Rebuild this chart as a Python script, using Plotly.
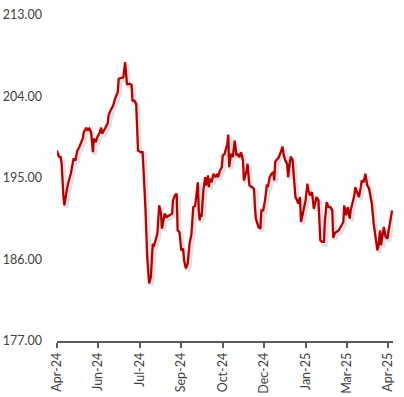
import plotly.graph_objects as go

dates = [
    "2024-04-20", "2024-04-22", "2024-04-24", "2024-04-25", "2024-04-27", "2024-04-28", "2024-04-30",
    "2024-05-02", "2024-05-05", "2024-05-07", "2024-05-08", "2024-05-10", "2024-05-12", "2024-05-14",
    "2024-05-16", "2024-05-18", "2024-05-19", "2024-05-22", "2024-05-23", "2024-05-25", "2024-05-27",
    "2024-05-28", "2024-05-29", "2024-05-30", "2024-06-01", "2024-06-03", "2024-06-05", "2024-06-07",
    "2024-06-08", "2024-06-10", "2024-06-12", "2024-06-14", "2024-06-15", "2024-06-17", "2024-06-20",
    "2024-06-22", "2024-06-25", "2024-06-26", "2024-06-29", "2024-07-01", "2024-07-03", "2024-07-05",
    "2024-07-08", "2024-07-10", "2024-07-11", "2024-07-13", "2024-07-15", "2024-07-17", "2024-07-20",
    "2024-07-22", "2024-07-25", "2024-07-27", "2024-07-29", "2024-07-31", "2024-08-02", "2024-08-03",
    "2024-08-06", "2024-08-07", "2024-08-09", "2024-08-11", "2024-08-12", "2024-08-14", "2024-08-15",
    "2024-08-17", "2024-08-20", "2024-08-23", "2024-08-24", "2024-08-26", "2024-08-28", "2024-08-29",
    "2024-08-31", "2024-09-02", "2024-09-04", "2024-09-05", "2024-09-07", "2024-09-09", "2024-09-11",
    "2024-09-13", "2024-09-15", "2024-09-17", "2024-09-18", "2024-09-20", "2024-09-21", "2024-09-22",
    "2024-09-23", "2024-09-24", "2024-09-26", "2024-09-28", "2024-09-29", "2024-10-01", "2024-10-02",
    "2024-10-03", "2024-10-05", "2024-10-07", "2024-10-09", "2024-10-11", "2024-10-12", "2024-10-14",
    "2024-10-16", "2024-10-17", "2024-10-19", "2024-10-22", "2024-10-23", "2024-10-24", "2024-10-26",
    "2024-10-28", "2024-10-30", "2024-11-01", "2024-11-02", "2024-11-04", "2024-11-06", "2024-11-08",
    "2024-11-09", "2024-11-12", "2024-11-13", "2024-11-15", "2024-11-18", "2024-11-20", "2024-11-21",
    "2024-11-22", "2024-11-25", "2024-11-27", "2024-11-28", "2024-11-30", "2024-12-02", "2024-12-04",
    "2024-12-05", "2024-12-07", "2024-12-09", "2024-12-11", "2024-12-12", "2024-12-13", "2024-12-14",
    "2024-12-17", "2024-12-19", "2024-12-21", "2024-12-22", "2024-12-24", "2024-12-26", "2024-12-27",
    "2024-12-29", "2024-12-30", "2025-01-01", "2025-01-02", "2025-01-04", "2025-01-06", "2025-01-07",
    "2025-01-09", "2025-01-10", "2025-01-12", "2025-01-15", "2025-01-17", "2025-01-18", "2025-01-20",
    "2025-01-22", "2025-01-24", "2025-01-26", "2025-01-27", "2025-01-29", "2025-01-31", "2025-02-02",
    "2025-02-04", "2025-02-05", "2025-02-07", "2025-02-09", "2025-02-11", "2025-02-13", "2025-02-14",
    "2025-02-16", "2025-02-18", "2025-02-20", "2025-02-22", "2025-02-24", "2025-02-25", "2025-02-26",
    "2025-02-28", "2025-03-02", "2025-03-04", "2025-03-05", "2025-03-07", "2025-03-09", "2025-03-10",
    "2025-03-12", "2025-03-14", "2025-03-16", "2025-03-17", "2025-03-19", "2025-03-21", "2025-03-23",
    "2025-03-25", "2025-03-26", "2025-03-28", "2025-03-30", "2025-04-01", "2025-04-03", "2025-04-04",
    "2025-04-06", "2025-04-07", "2025-04-09", "2025-04-10", "2025-04-12", "2025-04-14", "2025-04-15",
    "2025-04-17", "2025-04-19",
]

values = [
    198.03, 197.37, 197.30, 196.60, 192.89, 191.98, 193.30,
    194.40, 195.50, 196.60, 197.15, 196.93, 198.03, 198.37,
    198.95, 199.36, 200.05, 200.57, 200.24, 200.46, 200.05,
    198.81, 197.85, 199.36, 198.95, 199.58, 199.94, 200.57,
    199.91, 200.24, 200.68, 201.04, 201.89, 202.44, 202.99,
    203.76, 204.46, 205.96, 206.07, 206.11, 207.80, 205.38,
    205.38, 205.30, 203.54, 203.54, 203.18, 198.03, 197.85,
    197.85, 191.79, 186.28, 183.35, 184.08, 187.76, 187.39,
    188.49, 188.86, 191.98, 191.06, 189.41, 190.33, 191.06,
    190.69, 190.88, 191.06, 192.53, 193.08, 193.27, 189.22,
    189.04, 187.02, 187.21, 185.92, 185.01, 185.56, 187.76,
    188.78, 191.79, 191.92, 192.75, 194.54, 191.43, 190.33,
    191.06, 190.69, 193.63, 195.09, 194.18, 195.28, 193.99,
    194.92, 194.54, 195.47, 195.09, 195.47, 195.09, 195.83,
    196.20, 197.48, 197.67, 198.77, 199.80, 196.20, 197.67,
    197.30, 199.14, 197.48, 197.67, 197.30, 197.85, 196.93,
    194.73, 195.83, 196.57, 194.18, 193.99, 193.82, 191.79,
    190.51, 189.55, 189.41, 191.43, 191.43, 192.53, 194.29,
    193.99, 195.06, 195.47, 195.65, 194.73, 196.75, 196.93,
    197.30, 197.85, 198.48, 197.67, 196.93, 196.57, 195.09,
    196.75, 197.37, 196.93, 195.47, 192.89, 192.53, 192.16,
    192.89, 190.14, 191.06, 192.53, 194.37, 193.63, 193.08,
    193.44, 191.61, 192.72, 192.89, 192.53, 188.12, 187.94,
    187.94, 190.33, 192.34, 191.79, 191.79, 191.43, 188.40,
    188.95, 189.04, 189.22, 189.59, 189.96, 190.14, 191.98,
    190.88, 191.79, 190.51, 191.43, 192.34, 193.08, 193.99,
    193.44, 192.89, 193.99, 194.73, 194.54, 195.47, 194.18,
    193.82, 193.27, 192.16, 189.96, 188.12, 187.02, 187.39,
    189.22, 187.57, 188.67, 189.59, 188.49, 188.31, 189.04,
    190.14, 191.43,
]

tick_dates = ["2024-04-20", "2024-06-04", "2024-07-19", "2024-09-02", "2024-10-17",
              "2024-12-01", "2025-01-15", "2025-03-01", "2025-04-15"]
tick_labels = ["Apr-24", "Jun-24", "Jul-24", "Sep-24", "Oct-24",
               "Dec-24", "Jan-25", "Mar-25", "Apr-25"]
y_ticks = [177, 186, 195, 204, 213]
y_labels = ["177.00", "186.00", "195.00", "204.00", "213.00"]

x_range = ["2024-04-20", "2025-04-20"]
y_range = [177, 213]

font = dict(family="Lato, 'Open Sans', sans-serif", size=12.5, color="#404040")

fig = go.Figure()
# soft drop shadow (same data drawn on a slightly shifted overlay axis)
fig.add_trace(go.Scatter(
    x=dates, y=values, mode="lines", xaxis="x2", yaxis="y2",
    line=dict(color="rgba(0,0,0,0.12)", width=4.5), hoverinfo="skip", showlegend=False,
))
fig.add_trace(go.Scatter(
    x=dates, y=values, mode="lines",
    line=dict(color="#CC0000", width=2.3), showlegend=False,
))

fig.update_layout(
    width=404, height=397,
    margin=dict(l=57, r=11, t=15, b=56, autoexpand=False),
    paper_bgcolor="white", plot_bgcolor="white",
    font=font,
    xaxis=dict(
        type="date", range=x_range, automargin=False,
        tickvals=tick_dates, ticktext=tick_labels, tickangle=-90,
        showgrid=False, zeroline=False,
        showline=True, linecolor="#595959", linewidth=1.5,
        ticks="outside", ticklen=5, tickcolor="#595959", tickwidth=1.5,
        tickfont=font,
    ),
    yaxis=dict(
        range=y_range, tickvals=y_ticks, ticktext=y_labels, automargin=False,
        showgrid=False, zeroline=False, showline=False, ticks="",
        ticklabelstandoff=14, tickfont=font,
    ),
    xaxis2=dict(type="date", range=["2024-04-18", "2025-04-18"], overlaying="x",
                visible=False, automargin=False),
    yaxis2=dict(range=[177.25, 213.25], overlaying="y", visible=False, automargin=False),
)

fig.write_html(
    "out.html",
    config={"displayModeBar": False},
    post_script="document.documentElement.style.margin='0';document.body.style.margin='0';"
                "document.body.style.overflow='hidden';",
)
